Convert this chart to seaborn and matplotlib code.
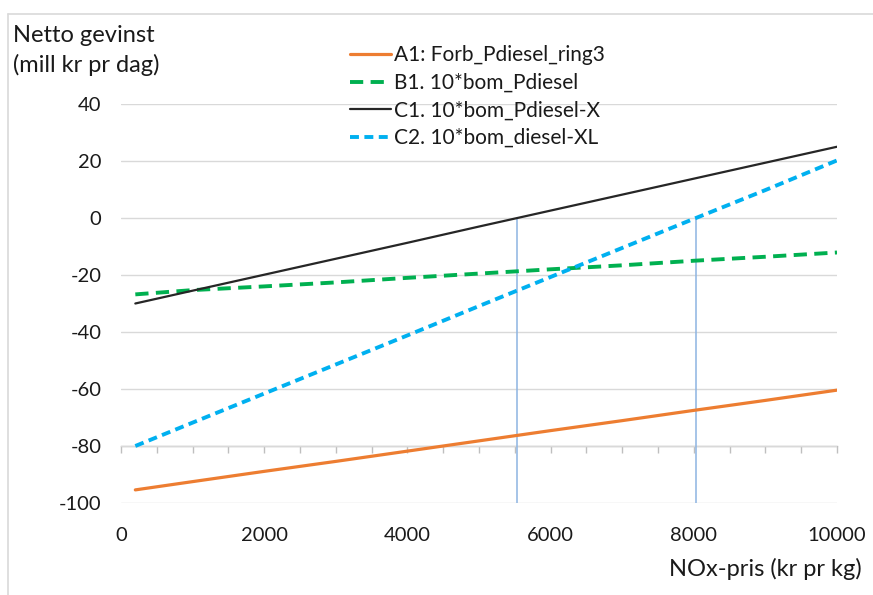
import numpy as np
import pandas as pd
import seaborn as sns
import matplotlib
matplotlib.use("Agg")
import matplotlib.pyplot as plt
from matplotlib.lines import Line2D
from matplotlib.ticker import MultipleLocator

# ---- data ----
nox_price = [200, 1000, 2000, 3000, 4000, 5000, 6000, 7000, 8000, 9000, 10000]
a1 = [-95.4, -92.5, -88.9, -85.4, -81.8, -78.2, -74.6, -71.1, -67.5, -64.0, -60.4]
b1 = [-26.8, -25.3, -24.0, -22.6, -21.0, -19.5, -18.0, -16.6, -15.0, -13.6, -12.1]
c1 = [-30.0, -25.5, -19.9, -14.3, -8.7, -3.0, 2.6, 8.2, 13.8, 19.4, 25.0]
c2 = [-80.0, -71.8, -61.6, -51.4, -41.2, -30.9, -20.7, -10.5, -0.3, 9.8, 20.2]
labels = ["A1: Forb_Pdiesel_ring3", "B1. 10*bom_Pdiesel",
          "C1. 10*bom_Pdiesel-X", "C2. 10*bom_diesel-XL"]
x_ticks = [0, 2000, 4000, 6000, 8000, 10000]
y_ticks = [-100, -80, -60, -40, -20, 0, 20, 40]

df = pd.DataFrame({"x": nox_price * 4,
                   "y": a1 + b1 + c1 + c2,
                   "serie": sum([[l] * len(nox_price) for l in labels], [])})

sns.set_theme(style="white")
plt.rcParams["font.family"] = ["Lato", "DejaVu Sans"]

fig = plt.figure(figsize=(8.73, 5.95), dpi=100)
ax = fig.add_axes([121 / 873, 1 - 503 / 595, (837 - 121) / 873, (503 - 104) / 595])

palette = {labels[0]: "#ED7D31", labels[1]: "#00B050",
           labels[2]: "#262626", labels[3]: "#00B0F0"}
dashes = {labels[0]: "", labels[1]: (3.4, 1.9), labels[2]: "", labels[3]: (2.3, 1.4)}
sizes = {labels[0]: 2.3, labels[1]: 2.8, labels[2]: 1.6, labels[3]: 2.8}

sns.lineplot(data=df, x="x", y="y", hue="serie", style="serie", size="serie",
             palette=palette, dashes=dashes, sizes=sizes, ax=ax, legend=False,
             zorder=3)

# drop lines where C1 and C2 cross zero
xc1 = np.interp(0, c1, nox_price)
xc2 = np.interp(0, c2, nox_price)
ax.vlines([xc1, xc2], -100, 0, color="#8DB4E2", lw=1.1, zorder=2)

ax.set_xlim(0, 10000)
ax.set_ylim(-100, 40)
ax.set_xticks(x_ticks)
ax.set_yticks(y_ticks)
ax.set_xticklabels([str(t) for t in x_ticks])
ax.set_yticklabels([str(t) for t in y_ticks])
ax.tick_params(axis="both", length=0, labelsize=14.5, colors="#1a1a1a")
ax.tick_params(axis="x", pad=17)
ax.tick_params(axis="y", pad=14)
ax.grid(axis="y", color="#D9D9D9", lw=1)
ax.grid(axis="x", visible=False)
for s in ax.spines.values():
    s.set_visible(False)
ax.set_xlabel("")
ax.set_ylabel("")

# horizontal axis line crossing at -80 with tick marks
sec = ax.secondary_xaxis((-80 - (-100)) / (40 - (-100)))
sec.xaxis.set_major_locator(MultipleLocator(500))
sec.tick_params(axis="x", direction="out", length=5, color="#BFBFBF",
                labelbottom=False, width=1)
sec.spines["bottom"].set_color("#BFBFBF")
sec.spines["bottom"].set_linewidth(1)
for side in ("top", "left", "right"):
    if side in sec.spines:
        sec.spines[side].set_visible(False)

handles = [Line2D([], [], color=palette[l], lw=sizes[l],
                  dashes=dashes[l] if dashes[l] else (None, None)) for l in labels]
for h, l in zip(handles, labels):
    if dashes[l] == "":
        h.set_linestyle("-")
leg = fig.legend(handles, labels, loc="upper left",
                 bbox_to_anchor=(340 / 873, 1 - 35 / 595), frameon=False,
                 fontsize=15, handlelength=1.95, handletextpad=0.12,
                 labelspacing=0.36, borderpad=0)
for t in leg.get_texts():
    t.set_color("#1a1a1a")

fig.text(13 / 873, 1 - 25 / 595, "Netto gevinst\n(mill kr pr dag)", ha="left",
         va="top", fontsize=17, color="#1a1a1a", linespacing=1.45)
fig.text(862 / 873, 1 - 569 / 595, "NOx-pris (kr pr kg)", ha="right",
         va="center", fontsize=17, color="#1a1a1a")

# outer chart border (top and left visible)
fig.add_artist(Line2D([8 / 873, 1], [1 - 14 / 595, 1 - 14 / 595],
                      transform=fig.transFigure, color="#D9D9D9", lw=1.2))
fig.add_artist(Line2D([8 / 873, 8 / 873], [0, 1 - 14 / 595],
                      transform=fig.transFigure, color="#D9D9D9", lw=1.2))

fig.savefig("out.png", dpi=100)
